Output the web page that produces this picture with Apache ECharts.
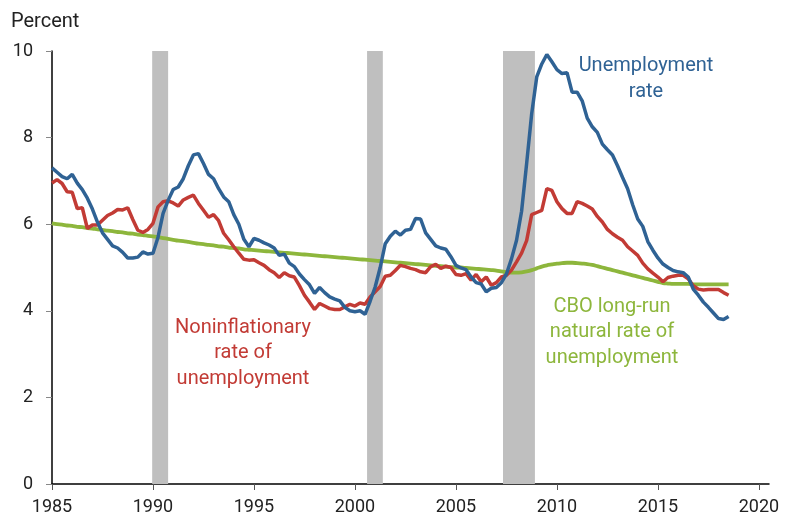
<!DOCTYPE html>
<html>
<head>
<meta charset="utf-8">
<script src="https://cdn.jsdelivr.net/npm/echarts@6/dist/echarts.min.js"></script>
<style>
html,body{margin:0;padding:0;background:#fff;}
#chart{width:794px;height:519px;}
</style>
</head>
<body>
<div id="chart"></div>
<script>
// Quarterly observations, first quarter plotted at 1985.0, step = one quarter
const startYear = 1985;
const quarterStep = 0.25;

const unemploymentRate = [
  7.30, 7.20, 7.10, 7.05,  7.15, 6.95, 6.80, 6.60,  6.35, 6.05, 5.80, 5.65,
  5.50, 5.45, 5.35, 5.22,  5.22, 5.24, 5.36, 5.31,  5.33, 5.70, 6.25, 6.55,
  6.80, 6.86, 7.05, 7.35,  7.60, 7.63, 7.40, 7.15,  7.05, 6.82, 6.63, 6.52,
  6.22, 6.00, 5.65, 5.48,  5.67, 5.63, 5.57, 5.52,  5.45, 5.28, 5.31, 5.10,
  5.02, 4.85, 4.72, 4.60,  4.40, 4.54, 4.42, 4.32,  4.27, 4.23, 4.08, 4.00,
  3.98, 4.00, 3.92, 4.22,  4.55, 5.00, 5.55, 5.72,  5.84, 5.75, 5.86, 5.88,
  6.13, 6.12, 5.80, 5.65,  5.50, 5.45, 5.42, 5.25,  5.05, 4.99, 4.95, 4.78,
  4.65, 4.62, 4.44, 4.52,  4.54, 4.65, 4.85, 5.20,  5.63, 6.30, 7.40, 8.55,
  9.40, 9.70, 9.92, 9.75,  9.57, 9.48, 9.50, 9.05,  9.05, 8.85, 8.45, 8.25,
  8.12, 7.85, 7.72, 7.60,  7.35, 7.08, 6.82, 6.45,  6.12, 5.95, 5.60, 5.40,
  5.22, 5.08, 5.00, 4.93,  4.90, 4.88, 4.78, 4.50,  4.36, 4.20, 4.08, 3.95,
  3.82, 3.80, 3.87
];

const noninflationaryRate = [
  6.95, 7.03, 6.94, 6.75,  6.74, 6.36, 6.38, 5.90,  5.98, 5.98, 6.09, 6.20,
  6.26, 6.34, 6.33, 6.38,  6.11, 5.86, 5.81, 5.88,  6.02, 6.40, 6.52, 6.54,
  6.49, 6.42, 6.56, 6.62,  6.67, 6.48, 6.32, 6.16,  6.22, 6.08, 5.79, 5.64,
  5.48, 5.33, 5.19, 5.17,  5.18, 5.11, 5.05, 4.95,  4.88, 4.77, 4.88, 4.81,
  4.78, 4.58, 4.36, 4.20,  4.03, 4.17, 4.11, 4.05,  4.03, 4.03, 4.09, 4.15,
  4.11, 4.18, 4.15, 4.32,  4.44, 4.56, 4.80, 4.82,  4.93, 5.05, 5.02, 4.98,
  4.95, 4.90, 4.88, 5.02,  5.07, 4.98, 5.03, 5.00,  4.84, 4.82, 4.86, 4.71,
  4.84, 4.67, 4.78, 4.59,  4.65, 4.78, 4.82, 4.94,  5.13, 5.33, 5.62, 6.22,
  6.27, 6.32, 6.82, 6.78,  6.52, 6.36, 6.25, 6.25,  6.52, 6.48, 6.42, 6.35,
  6.18, 6.05, 5.88, 5.78,  5.70, 5.63, 5.48, 5.38,  5.28, 5.10, 4.97, 4.87,
  4.78, 4.67, 4.77, 4.80,  4.82, 4.82, 4.74, 4.58,  4.50, 4.48, 4.49, 4.49,
  4.49, 4.42, 4.36
];

const cboNaturalRate = [
  6.02, 6.00, 5.99, 5.97,  5.96, 5.94, 5.93, 5.91,  5.90, 5.88, 5.87, 5.85,
  5.84, 5.82, 5.81, 5.79,  5.78, 5.76, 5.75, 5.73,  5.72, 5.70, 5.68, 5.66,
  5.64, 5.62, 5.61, 5.59,  5.57, 5.55, 5.54, 5.52,  5.51, 5.49, 5.48, 5.46,
  5.45, 5.44, 5.42, 5.41,  5.40, 5.39, 5.38, 5.37,  5.36, 5.35, 5.34, 5.33,
  5.32, 5.31, 5.30, 5.29,  5.28, 5.27, 5.26, 5.25,  5.24, 5.23, 5.22, 5.21,
  5.20, 5.19, 5.18, 5.17,  5.16, 5.15, 5.14, 5.13,  5.12, 5.11, 5.10, 5.09,
  5.08, 5.07, 5.06, 5.05,  5.04, 5.03, 5.02, 5.01,  5.00, 5.00, 4.99, 4.98,
  4.97, 4.96, 4.95, 4.94,  4.93, 4.91, 4.89, 4.88,  4.88, 4.89, 4.91, 4.94,
  4.98, 5.02, 5.05, 5.07,  5.09, 5.10, 5.11, 5.11,  5.10, 5.09, 5.08, 5.06,
  5.03, 5.00, 4.97, 4.94,  4.91, 4.88, 4.85, 4.82,  4.79, 4.76, 4.73, 4.70,
  4.67, 4.64, 4.63, 4.62,  4.62, 4.62, 4.62, 4.61,  4.61, 4.61, 4.61, 4.61,
  4.61, 4.61, 4.61
];

// Recession periods (start, end) as plotted
const recessions = [
  [1989.96, 1990.75],
  [2000.60, 2001.38],
  [2007.33, 2008.91]
];

const xTicks = [1985, 1990, 1995, 2000, 2005, 2010, 2015, 2020];
const yTicks = [0, 2, 4, 6, 8, 10];

const annUnemp = 'Unemployment\nrate';
const annNairu = 'Noninflationary\nrate of\nunemployment';
const annCbo = 'CBO long-run\nnatural rate of\nunemployment';

function toPairs(values) {
  return values.map((v, i) => [startYear + i * quarterStep, v]);
}

const FONT = 'Roboto, "Noto Sans", sans-serif';
const BLUE = '#2F6294';
const RED = '#C23B35';
const GREEN = '#8DB63C';

const chart = echarts.init(document.getElementById('chart'), null, {renderer: 'canvas'});
chart.setOption({
  animation: false,
  backgroundColor: '#ffffff',
  grid: {left: 52, right: 25, top: 51, bottom: 35, containLabel: false},
  xAxis: {
    type: 'value',
    min: 1985,
    max: 2020.5,
    interval: 5,
    axisLine: {show: true, lineStyle: {color: '#000', width: 1.5}},
    axisTick: {show: true, length: 6, lineStyle: {color: '#555', width: 1}, customValues: xTicks},
    axisLabel: {customValues: xTicks, formatter: v => String(v), color: '#222', fontSize: 18, fontFamily: FONT, margin: 14},
    splitLine: {show: false}
  },
  yAxis: {
    type: 'value',
    min: 0,
    max: 10,
    interval: 2,
    axisLine: {show: true, lineStyle: {color: '#000', width: 1.5}},
    axisTick: {show: true, length: 6, lineStyle: {color: '#888', width: 1}, customValues: yTicks},
    axisLabel: {customValues: yTicks, formatter: v => String(v), color: '#222', fontSize: 18, fontFamily: FONT, margin: 19},
    splitLine: {show: false}
  },
  series: [
    {
      name: 'CBO long-run natural rate of unemployment',
      type: 'line',
      data: toPairs(cboNaturalRate),
      showSymbol: false,
      smooth: 0.3,
      lineStyle: {color: GREEN, width: 3.8},
      z: 3,
      markArea: {
        silent: true,
        itemStyle: {color: '#BFBFBF'},
        data: recessions.map(r => [{xAxis: r[0]}, {xAxis: r[1]}])
      }
    },
    {
      name: 'Noninflationary rate of unemployment',
      type: 'line',
      data: toPairs(noninflationaryRate),
      showSymbol: false,
      lineStyle: {color: RED, width: 3.5},
      z: 4
    },
    {
      name: 'Unemployment rate',
      type: 'line',
      data: toPairs(unemploymentRate),
      showSymbol: false,
      lineStyle: {color: BLUE, width: 3.5},
      z: 5
    }
  ],
  graphic: [
    {type: 'text', left: 11, top: 12, style: {text: 'Percent', fill: '#222', fontSize: 20, fontFamily: FONT}},
    {type: 'text', x: 646, y: 53, style: {text: annUnemp, fill: BLUE, fontSize: 20, fontFamily: FONT, textAlign: 'center', textVerticalAlign: 'top', lineHeight: 26}},
    {type: 'text', x: 243, y: 315, style: {text: annNairu, fill: RED, fontSize: 20, fontFamily: FONT, textAlign: 'center', textVerticalAlign: 'top', lineHeight: 25.5}},
    {type: 'text', x: 612, y: 294, style: {text: annCbo, fill: GREEN, fontSize: 20, fontFamily: FONT, textAlign: 'center', textVerticalAlign: 'top', lineHeight: 25.5}}
  ]
});
</script>
</body>
</html>
